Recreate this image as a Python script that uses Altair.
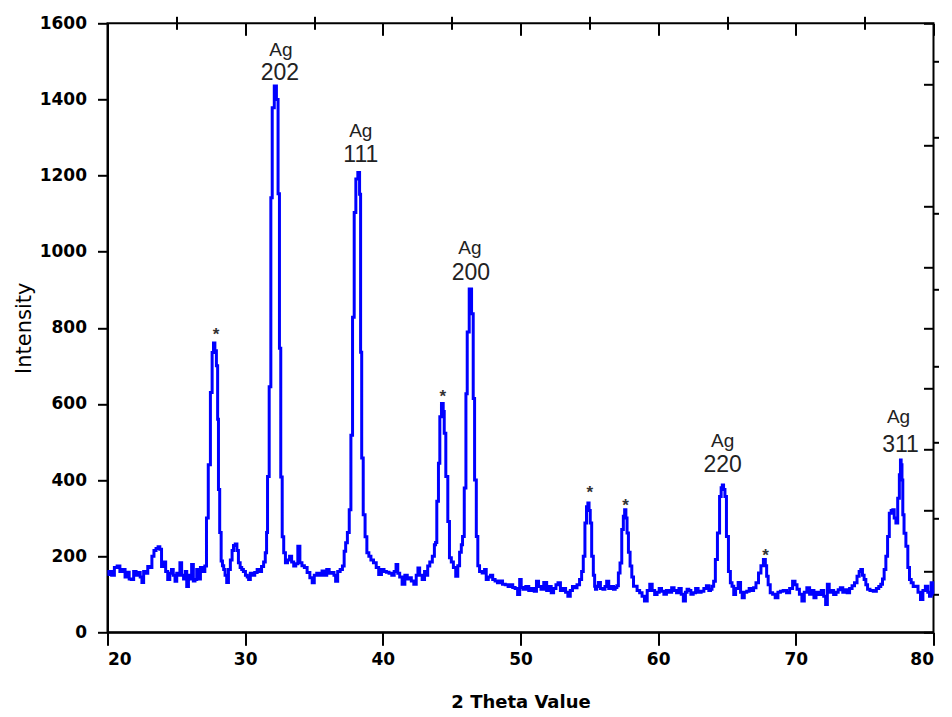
import altair as alt
import pandas as pd

# ---- data ----
two_theta = [
    20.0, 20.2, 20.4, 20.6, 20.8, 21.0, 21.2, 21.35, 21.5, 21.65, 21.8, 22.0, 22.15, 22.3, 22.45, 22.55,
    22.7, 22.85, 23.0, 23.15, 23.3, 23.45, 23.6, 23.75, 23.85, 24.0, 24.15, 24.3, 24.45, 24.6, 24.7, 24.85,
    24.96, 25.1, 25.2, 25.32, 25.45, 25.6, 25.7, 25.81, 25.95, 26.05, 26.17, 26.3, 26.41, 26.55, 26.7, 26.8,
    26.9, 27.0, 27.14,
    27.24, 27.4, 27.55, 27.65, 27.75, 27.85, 27.97, 28.03, 28.09, 28.21, 28.3, 28.4, 28.48, 28.6, 28.72,
    28.85, 29.0, 29.1, 29.21, 29.35, 29.45, 29.57, 29.7, 29.8, 29.94, 30.1, 30.2, 30.3, 30.45, 30.6, 30.79,
    30.95, 31.1, 31.28, 31.4, 31.52, 31.59, 31.66, 31.83, 31.9, 32.03, 32.2, 32.34, 32.44, 32.54, 32.63,
    32.75, 32.85, 33.0, 33.15, 33.3, 33.45, 33.6, 33.75, 33.9, 34.05, 34.2, 34.4, 34.6, 34.8, 34.94, 35.1,
    35.3, 35.5, 35.67, 35.85, 36.0, 36.2, 36.4, 36.5, 36.64, 36.8, 37.0, 37.13, 37.25, 37.35, 37.5, 37.62,
    37.74, 37.86, 37.98, 38.1, 38.27, 38.35, 38.42, 38.51, 38.64, 38.78, 38.9, 39.07, 39.2, 39.44, 39.6,
    39.8, 40.0, 40.17, 40.35, 40.55, 40.75, 40.9, 41.02, 41.15, 41.3, 41.5, 41.7, 41.85, 41.99, 42.15,
    42.35, 42.5, 42.6, 42.75, 42.96, 43.1, 43.2, 43.32, 43.5, 43.69, 43.8, 43.86, 43.98, 44.1, 44.18,
    44.34, 44.43, 44.49, 44.66, 44.78, 44.9, 45.05, 45.2, 45.39, 45.5, 45.65, 45.75, 45.83, 46.0, 46.07,
    46.19, 46.36, 46.53, 46.6, 46.73, 46.85, 46.95, 47.1, 47.33, 47.45, 47.57, 47.75, 47.9, 48.06, 48.25,
    48.4, 48.6, 48.79, 49.0, 49.2, 49.35, 49.52, 49.7, 49.88, 50.0, 50.1, 50.27, 50.5, 50.7, 50.9, 51.1,
    51.22, 51.4, 51.58, 51.8, 52.0, 52.15, 52.31, 52.5, 52.65, 52.8, 53.0, 53.2, 53.35, 53.53, 53.7, 53.85,
    54.01, 54.2, 54.38, 54.5, 54.62, 54.74, 54.85, 54.94, 55.02, 55.11, 55.23, 55.35, 55.42, 55.47, 55.6,
    55.71, 55.9, 56.07, 56.2, 56.32, 56.5, 56.7, 56.81, 56.95, 57.05, 57.17, 57.29, 57.42, 57.52, 57.61,
    57.7, 57.78, 57.9, 58.02, 58.15, 58.27, 58.39, 58.55, 58.76, 58.9, 59.11, 59.3, 59.48, 59.65, 59.84,
    60.0, 60.15, 60.33, 60.5, 60.7, 60.9, 61.06, 61.25, 61.42, 61.6, 61.75, 61.91, 62.05, 62.15, 62.3,
    62.45, 62.64, 62.8, 63.0, 63.24, 63.4, 63.61, 63.75, 63.85, 63.97, 64.09, 64.22, 64.39, 64.53, 64.62,
    64.7, 64.8, 64.9, 65.02, 65.19, 65.3, 65.43, 65.55, 65.7, 65.92, 66.05, 66.16, 66.35, 66.52, 66.7,
    66.85, 67.01, 67.2, 67.38, 67.55, 67.74, 67.83, 67.93, 68.05, 68.23, 68.4, 68.6, 68.8, 68.96, 69.2,
    69.45, 69.65, 69.88, 70.0, 70.17, 70.35, 70.53, 70.7, 70.9, 71.1, 71.25, 71.38, 71.55, 71.75, 71.95,
    72.1, 72.23, 72.35, 72.5, 72.65, 72.84, 73.0, 73.15, 73.32, 73.5, 73.65, 73.81, 74.0, 74.17, 74.35,
    74.54, 74.66, 74.78, 74.9, 75.02, 75.15, 75.27, 75.5, 75.75, 75.95, 76.1, 76.24, 76.35, 76.48, 76.6,
    76.73, 76.85, 77.0, 77.09, 77.2, 77.34, 77.46, 77.58, 77.62, 77.68, 77.74, 77.8, 77.92, 78.07, 78.2,
    78.31, 78.45, 78.6, 78.8, 78.95, 79.16, 79.3, 79.52, 79.65, 79.77, 79.89, 80.0,
]
intensity = [
    152, 160, 150, 170, 174, 160, 165, 145, 158, 140, 139, 160, 150, 157, 145, 131,
    160, 155, 173, 170, 200, 215, 220, 225, 218, 173, 185, 160, 139, 155, 165, 150,
    134, 155, 150, 183, 150, 140, 160, 120, 150, 140, 178, 135, 139, 165, 140, 170,
    165, 160, 174,
    300, 440, 630, 735, 760, 740, 700, 560, 375, 262, 187, 175, 165, 150, 131,
    165, 190, 215, 228, 232, 215, 183, 170, 165, 160, 150, 145, 139, 155, 150, 157,
    165, 160, 173, 185, 209, 262, 409, 645, 1142, 1378, 1435, 1400, 1152, 746, 408,
    251, 209, 183, 190, 200, 185, 174, 180, 226, 183, 175, 170, 157, 143, 130, 150,
    155, 150, 161, 150, 165, 155, 157, 150, 134, 160, 165, 174, 213, 235, 262, 322,
    518, 828, 1103, 1191, 1208, 1151, 736, 458, 309, 251, 209, 200, 190, 183, 170,
    152, 165, 160, 158, 155, 150, 160, 178, 155, 145, 126, 150, 140, 143, 135,
    126, 150, 169, 150, 139, 160, 150, 174, 185, 200, 230, 236, 344, 444, 566,
    601, 580, 523, 409, 291, 196, 185, 170, 147, 175, 210, 230, 252, 379, 627,
    789, 902, 837, 614, 400, 252, 175, 160, 156, 165, 139, 145, 150, 139, 135,
    130, 135, 126, 125, 120, 125, 118, 115, 99, 139, 118, 113, 120, 110, 115, 108,
    134, 120, 113, 131, 110, 120, 104, 115, 125, 130, 110, 115, 105, 95, 110, 120,
    117, 125, 139, 160, 200, 287, 330, 340, 320, 287, 200, 150, 121, 113, 120,
    131, 115, 113, 120, 134, 115, 120, 113, 118, 122, 156, 182, 270, 305, 322,
    300, 261, 210, 174, 145, 121, 121, 110, 104, 95, 82, 110, 126, 110, 99,
    105, 115, 108, 100, 110, 105, 117, 110, 104, 115, 100, 82, 105, 113, 110,
    100, 104, 115, 105, 108, 115, 122, 110, 113, 121, 134, 191, 261, 357, 380,
    387, 375, 357, 252, 160, 130, 121, 99, 115, 131, 105, 91, 105, 108, 115,
    110, 117, 130, 156, 175, 191, 175, 147, 125, 104, 100, 91, 105, 108, 110,
    104, 115, 134, 125, 113, 100, 82, 105, 117, 100, 110, 91, 105, 99, 110,
    95, 73, 126, 105, 110, 99, 105, 112, 117, 105, 112, 104, 115, 122, 130,
    147, 160, 165, 150, 139, 125, 113, 110, 108, 115, 120, 126, 140, 165, 200,
    252, 313, 320, 322, 300, 287, 352, 414, 453, 440, 400, 309, 260, 226, 170,
    139, 130, 120, 121, 105, 86, 110, 121, 105, 95, 130, 100,
]

# peak labels ("Ag" + Miller index)
ag_index = ["202", "111", "200", "220", "311"]
ag_x = [32.6, 38.4, 46.32, 64.68, 77.46]
ag_y_word = [1530, 1317, 1010, 503, 566]
ag_x_num = [32.52, 38.4, 46.39, 64.68, 77.6]
ag_y_num = [1470, 1254, 944, 440, 492]

# unidentified peaks marked with "*"
star_x = [27.88, 44.36, 55.03, 57.64, 67.8]
star_y = [780, 617, 365, 333, 201]

x_major = [20, 30, 40, 50, 60, 70, 80]
x_minor = [25, 35, 45, 55, 65, 75]
y_major = [0, 200, 400, 600, 800, 1000, 1200, 1400, 1600]
y_minor = [100, 300, 500, 700, 900, 1100, 1300, 1500]
y_right = [0, 160, 320, 480, 640, 800, 960, 1120, 1280, 1440, 1600]

df = pd.DataFrame({"x": two_theta, "y": intensity})
labels_df = pd.DataFrame({"x": ag_x, "y": ag_y_word, "xn": ag_x_num, "yn": ag_y_num, "num": ag_index})
stars_df = pd.DataFrame({"x": star_x, "y": star_y})

XS = alt.Scale(domain=[20, 80], nice=False, zero=False)
YS = alt.Scale(domain=[0, 1600], nice=False, zero=False)

LABEL_FONT = "DejaVu Sans"


def deco_x(axis):
    return alt.Chart(df).mark_line(opacity=0).encode(
        x=alt.X("x:Q", scale=XS, axis=axis),
        y=alt.Y("y:Q", scale=YS, axis=None),
    )


def deco_y(axis):
    return alt.Chart(df).mark_line(opacity=0).encode(
        x=alt.X("x:Q", scale=XS, axis=None),
        y=alt.Y("y:Q", scale=YS, axis=axis),
    )


line = alt.Chart(df).mark_line(color="#0000FF", strokeWidth=3, interpolate="step").encode(
    x=alt.X("x:Q", scale=XS, axis=alt.Axis(
        values=x_major, tickSize=13, labelPadding=6, format="d",
        title="2 Theta Value", titleFont=LABEL_FONT, titleFontSize=18, titleFontWeight="bold",
        titlePadding=26, labelFont=LABEL_FONT, labelFontSize=17, labelFontWeight="bold",
    )),
    y=alt.Y("y:Q", scale=YS, axis=alt.Axis(
        values=y_major, tickSize=10, labelPadding=11, format="d",
        title="Intensity", titleFont=LABEL_FONT, titleFontSize=21, titleFontWeight="normal",
        titlePadding=5, labelFont=LABEL_FONT, labelFontSize=17, labelFontWeight="bold",
    )),
)

x_bottom_minor = deco_x(alt.Axis(values=x_minor, tickSize=7, labels=False, domain=False, title=None))
x_top_major = deco_x(alt.Axis(orient="top", values=x_major, tickSize=12, offset=-12,
                              labels=False, domain=False, title=None))
x_top_minor = deco_x(alt.Axis(orient="top", values=x_minor, tickSize=6, offset=-6,
                              labels=False, domain=False, title=None))
y_left_minor = deco_y(alt.Axis(values=y_minor, tickSize=5, labels=False, domain=False, title=None))
y_right_ticks = deco_y(alt.Axis(orient="right", values=y_right, tickSize=10, offset=-10,
                                labels=False, domain=False, title=None))

ag_word = alt.Chart(labels_df).mark_text(
    text="Ag", font="Liberation Sans", fontSize=19, color="#222222", baseline="middle"
).encode(
    x=alt.X("x:Q", scale=XS, axis=None),
    y=alt.Y("y:Q", scale=YS, axis=None),
)
ag_num = alt.Chart(labels_df).mark_text(
    font="Liberation Sans", fontSize=23, color="#222222", baseline="middle"
).encode(
    x=alt.X("xn:Q", scale=XS, axis=None),
    y=alt.Y("yn:Q", scale=YS, axis=None),
    text="num:N",
)
stars = alt.Chart(stars_df).mark_text(
    text="*", font="Liberation Sans", fontSize=17, fontWeight="bold", color="#333333", baseline="middle"
).encode(
    x=alt.X("x:Q", scale=XS, axis=None),
    y=alt.Y("y:Q", scale=YS, axis=None),
)

chart = alt.layer(
    line, x_bottom_minor, x_top_major, x_top_minor, y_left_minor, y_right_ticks,
    ag_word, ag_num, stars,
).resolve_axis(
    x="independent", y="independent"
).properties(
    width=826, height=609,
    autosize=alt.AutoSizeParams(type="none"),
    padding={"left": 99.5, "top": 15.3, "right": 8, "bottom": 82},
    background="white",
).configure_view(
    stroke="black", strokeWidth=2
).configure_axis(
    grid=False, domainColor="black", domainWidth=2, tickColor="black", tickWidth=2,
    labelColor="black", titleColor="black",
)

chart.save("out.html", embed_options={"renderer": "svg", "actions": False})
